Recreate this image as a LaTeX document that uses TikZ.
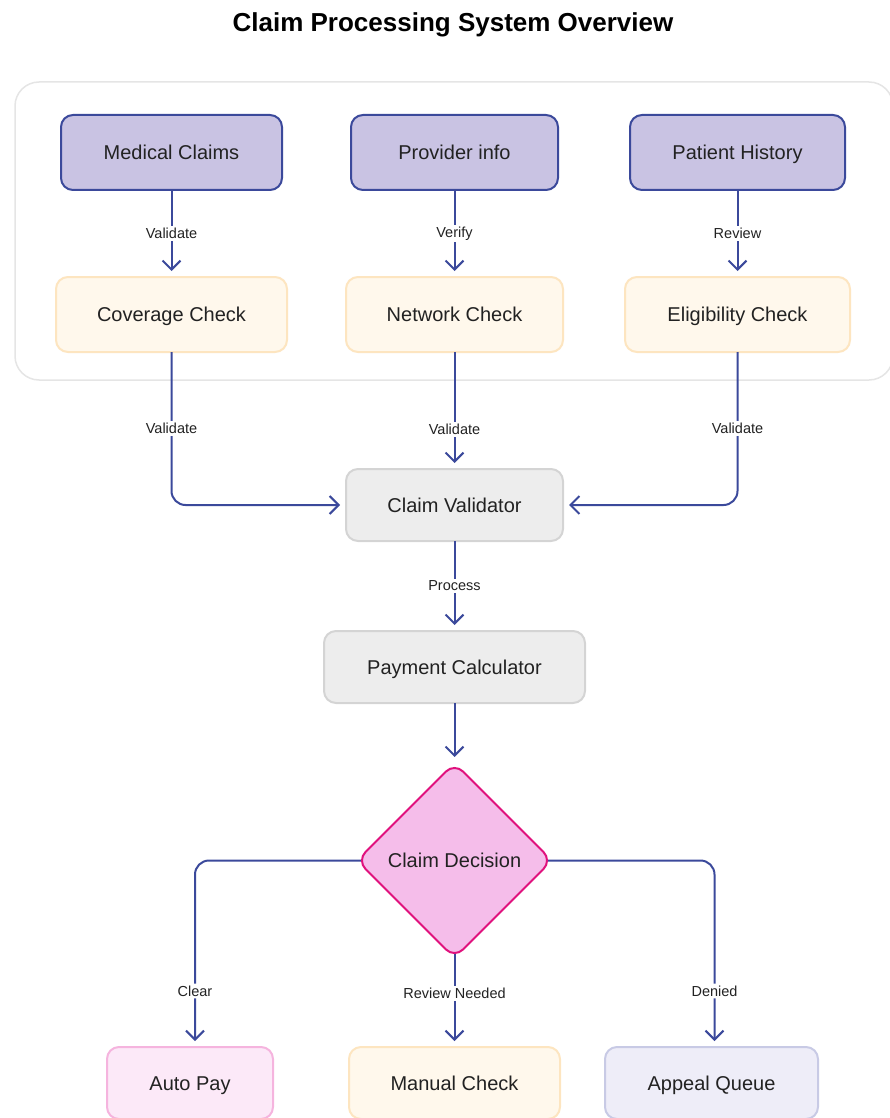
\documentclass[tikz,border=0pt]{standalone}
\usepackage{fontspec}
\setmainfont{Liberation Sans}
\usetikzlibrary{arrows.meta,positioning,shapes.geometric}

\definecolor{flowblue}{RGB}{59,73,155}
\definecolor{srcfill}{RGB}{201,195,227}
\definecolor{chkfill}{RGB}{255,248,236}
\definecolor{chkline}{RGB}{253,229,192}
\definecolor{grayfill}{RGB}{237,237,237}
\definecolor{grayline}{RGB}{212,212,212}
\definecolor{decfill}{RGB}{245,189,234}
\definecolor{decline}{RGB}{224,18,125}
\definecolor{payfill}{RGB}{252,233,248}
\definecolor{payline}{RGB}{245,180,222}
\definecolor{appfill}{RGB}{238,237,248}
\definecolor{appline}{RGB}{200,202,229}
\definecolor{txt}{RGB}{34,34,34}

\begin{document}
\begin{tikzpicture}[x=1pt,y=-1pt,>={Straight Barb[length=9pt,width=18pt]},
        box node/.style={rectangle,rounded corners=12pt,line width=2pt,outer sep=0pt,
          text height=14pt,text depth=0pt,
          font=\fontsize{20}{24}\selectfont,text=txt},
        source node/.style={box node,fill=srcfill,draw=flowblue,minimum height=75pt},
        check node/.style={box node,fill=chkfill,draw=chkline,minimum height=75pt},
        gray node/.style={box node,fill=grayfill,draw=grayline,minimum height=72pt},
        decision node/.style={diamond,aspect=1,rounded corners=12pt,fill=decfill,draw=decline,
          line width=2pt,inner sep=0pt,outer sep=0pt,minimum width=195pt,minimum height=195pt,
          font=\fontsize{20}{24}\selectfont,text=txt},
        flow/.style={->,draw=flowblue,line width=2pt,shorten >=6pt},
        lbl/.style={fill=white,inner sep=2pt,font=\fontsize{14.5}{17}\selectfont,text=txt}]

        \useasboundingbox (0,0) rectangle (889,1118);

        % group round the inputs
        \draw[draw=black!10,line width=1.5pt,fill=white,rounded corners=24pt]
          (15,82) rectangle (893,380);

        \node[font=\fontsize{26}{30}\selectfont\bfseries,text=black] (title) at (453,25)
          {Claim Processing System Overview};

        \node[source node,minimum width=221pt] (1) at (171.5,152.5) {Medical Claims};
        \node[source node,minimum width=207pt] (2) [right=69pt of 1] {Provider info};
        \node[source node,minimum width=215pt] (3) [right=72pt of 2] {Patient History};

        \node[check node,minimum width=231pt] (4) [below=87pt of 1] {Coverage Check};
        \node[check node,minimum width=217pt] (5) [below=87pt of 2] {Network Check};
        \node[check node,minimum width=225pt] (6) [below=87pt of 3] {Eligibility Check};

        \node[gray node,minimum width=217pt] (7) [below=117pt of 5] {Claim Validator};
        \node[gray node,minimum width=261pt] (8) [below=90pt of 7] {Payment Calculator};
        \node[decision node] (9) [below=60pt of 8] {Claim Decision};

        \node[box node,fill=chkfill,draw=chkline,minimum width=211pt,minimum height=72pt]
          (11) [below=89pt of 9] {Manual Check};
        \node[box node,fill=payfill,draw=payline,minimum width=166pt,minimum height=72pt]
          (10) [left=76pt of 11] {Auto Pay};
        \node[box node,fill=appfill,draw=appline,minimum width=213pt,minimum height=72pt]
          (12) [right=45pt of 11] {Appeal Queue};

        \path[every edge/.style={flow},every node/.style={lbl}]
        (1) edge node {Validate} (4)
        (2) edge node {Verify} (5)
        (3) edge node {Review} (6)
        (5) edge node[pos=0.66] {Validate} (7)
        (7) edge node {Process} (8)
        (8) edge (9)
        (9) edge[shorten <=-4pt] node[pos=0.4] {Review Needed} (11);

        \draw[flow,rounded corners=14pt] (4) |- node[lbl,pos=0.25] {Validate} (7);
        \draw[flow,rounded corners=14pt] (6) |- node[lbl,pos=0.25] {Validate} (7);
        \draw[flow,rounded corners=14pt,shorten <=-4pt] (9) -| node[lbl,pos=0.85] {Clear} ([xshift=5pt]10.north);
        \draw[flow,rounded corners=14pt,shorten <=-4pt] (9) -| node[lbl,pos=0.85] {Denied} ([xshift=3pt]12.north);
      \end{tikzpicture}
\end{document}
